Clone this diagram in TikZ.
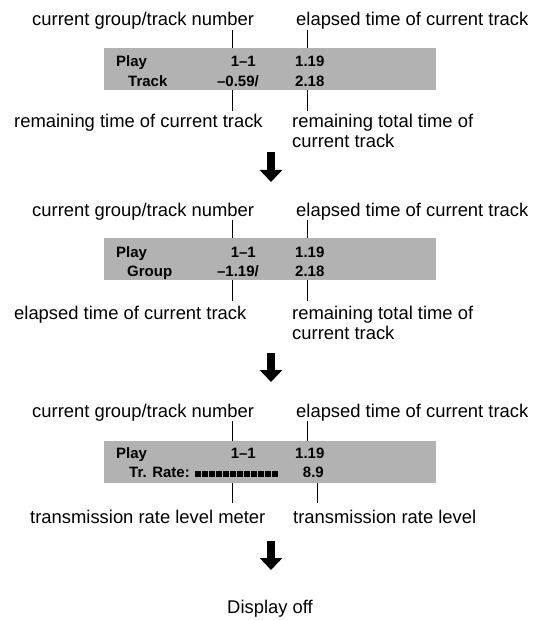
\documentclass[tikz,border=0pt]{standalone}
\usepackage{fontspec}
\setmainfont{Liberation Sans}
\usepackage{xcolor}
\usetikzlibrary{positioning,arrows.meta}
\definecolor{lcdgray}{RGB}{178,178,178}

\begin{document}
\begin{tikzpicture}[
x=1pt,y=-1pt,
lbl/.style={inner sep=0pt,anchor=base west,font=\fontsize{18.4}{20}\selectfont},
lcd/.style={fill=lcdgray,minimum width=332pt,minimum height=42pt,anchor=north west,inner sep=0pt},
txt/.style={inner sep=0pt,anchor=base west,font=\fontsize{15}{17}\selectfont\bfseries},
lead/.style={line width=0.8pt},
bigarrow/.style={line width=8pt,-{Triangle[width=22pt,length=12pt]}}
]
\useasboundingbox (0,0) rectangle (549,620);

% track mode
\node[lcd] (p1) at (104,48) {};
\node[txt] (play1) at (116,67) {Play};
\node[txt,anchor=base east] (num1) at (256,67) {1--1};
\node[txt] (el1) at (295,67) {1.19};
\node[txt] (mode1) at (128,86.5) {Track};
\node[txt,anchor=base east] (rem1) at (259,86.5) {--0.59/};
\node[txt] (tot1) at (295,86.5) {2.18};
\node[lbl] (tl1) at (32,26) {current group/track number};
\node[lbl] (tr1) at (296,26) {elapsed time of current track};
\node[lbl] (bl1) at (14,128) {remaining time of current track};
\node[lbl,align=left] (br1) at (292,148) {remaining total time of\\current track};
\coordinate (a1) at (232,30);
\coordinate (b1) at (307,30);
\coordinate (c1) at (232,111);
\coordinate (d1) at (307,111);
\draw[lead] (a1) -- (a1 |- p1.north);
\draw[lead] (b1) -- (b1 |- p1.north);
\draw[lead] (p1.south -| c1) -- (c1);
\draw[lead] (p1.south -| d1) -- (d1);
\coordinate (s1) at (271,152);
\coordinate (e1) at (271,182);
\draw[bigarrow] (s1) -- (e1);

% group mode
\begin{scope}[shift={(0,190)}]
\node[lcd] (p2) at (104,48) {};
\node[txt] (play2) at (116,67) {Play};
\node[txt,anchor=base east] (num2) at (256,67) {1--1};
\node[txt] (el2) at (295,67) {1.19};
\node[txt] (mode2) at (127,86.5) {Group};
\node[txt,anchor=base east] (rem2) at (259,86.5) {--1.19/};
\node[txt] (tot2) at (295,86.5) {2.18};
\node[lbl] (tl2) at (32,26) {current group/track number};
\node[lbl] (tr2) at (296,26) {elapsed time of current track};
\node[lbl] (bl2) at (14,129) {elapsed time of current track};
\node[lbl,align=left] (br2) at (292,149) {remaining total time of\\current track};
\coordinate (a2) at (232,30);
\coordinate (b2) at (307,30);
\coordinate (c2) at (232,111);
\coordinate (d2) at (307,111);
\draw[lead] (a2) -- (a2 |- p2.north);
\draw[lead] (b2) -- (b2 |- p2.north);
\draw[lead] (p2.south -| c2) -- (c2);
\draw[lead] (p2.south -| d2) -- (d2);
\coordinate (s2) at (271,163);
\coordinate (e2) at (271,192);
\draw[bigarrow] (s2) -- (e2);
\end{scope}

% transmission rate
\begin{scope}[shift={(0,391)}]
\node[lcd] (p3) at (104,50) {};
\node[txt] (play3) at (116,67) {Play};
\node[txt,anchor=base east] (num3) at (256,67) {1--1};
\node[txt] (el3) at (295,67) {1.19};
\node[txt] (mode3) at (129,86.5) {Tr. Rate:};
\foreach \i in {0,...,11}
  \fill (195+\i*7,86) rectangle ++(5.5,-6);
\node[txt,anchor=base east] (rate3) at (324,86.5) {8.9};
\node[lbl] (tl3) at (32,26) {current group/track number};
\node[lbl] (tr3) at (296,26) {elapsed time of current track};
\node[lbl] (bl3) at (30,132) {transmission rate level meter};
\node[lbl] (br3) at (293,132) {transmission rate level};
\coordinate (a3) at (232,30);
\coordinate (b3) at (307,30);
\coordinate (c3) at (232,112);
\coordinate (d3) at (317,112);
\draw[lead] (a3) -- (a3 |- p3.north);
\draw[lead] (b3) -- (b3 |- p3.north);
\draw[lead] (p3.south -| c3) -- (c3);
\draw[lead] (p3.south -| d3) -- (d3);
\coordinate (s3) at (271,150);
\coordinate (e3) at (271,179);
\draw[bigarrow] (s3) -- (e3);
\end{scope}

\node[lbl,anchor=base] (off) at (270,613) {Display off};
\end{tikzpicture}
\end{document}
